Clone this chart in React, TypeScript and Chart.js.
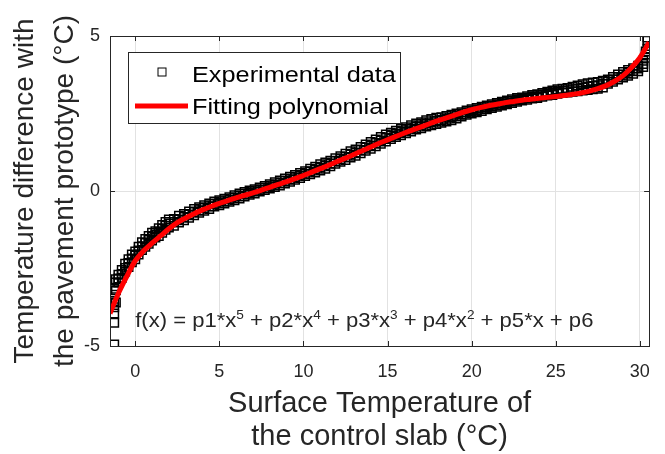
import React, { useEffect, useRef } from 'react';
import { Chart, registerables } from 'chart.js';

Chart.register(...registerables);

const FONT = '"Liberation Sans", Arial, Helvetica, sans-serif';
const TEXT = '#262626';

const xTicks = [0, 5, 10, 15, 20, 25, 30];
const yTicks = [-5, 0, 5];
const xRange = [-1.5, 30.55];
const yRange = [-5, 5];

// stray experimental points at both ends
const outlierX = [-1.25, -1.25, -1.25, -1.25, -1.25, -1.25, -1.25, -1.25, -1.15, -1.15, -1.15, 30.45, 30.45, 30.45];
const outlierY = [-4.95, -4.25, -3.95, -3.75, -3.55, -3.35, -3.15, -2.95, -3.6, -3.2, -2.85, 4.6, 4.85, 4.95];

// experimental band: x with lower, middle and upper readings
const bandX = [
  -1.0, -0.8, -0.6, -0.4, -0.2, 0.0, 0.2, 0.4, 0.6, 0.8, 1.0, 1.2, 1.4, 1.6, 1.8, 2.0,
  2.3, 2.6, 2.9, 3.2, 3.5, 3.8, 4.1, 4.4, 4.7, 5.0, 5.3, 5.6, 5.9, 6.2, 6.5, 6.8, 7.1, 7.4, 7.7,
  8.0, 8.3, 8.6, 8.9, 9.2, 9.5, 9.8, 10.1, 10.4, 10.7, 11.0, 11.3, 11.6, 11.9, 12.2, 12.5, 12.8,
  13.1, 13.4, 13.7, 14.0, 14.3, 14.6, 14.9, 15.2, 15.5, 15.8, 16.1, 16.4, 16.7, 17.0, 17.3, 17.6,
  17.9, 18.2, 18.5, 18.8, 19.1, 19.4, 19.7, 20.0, 20.3, 20.6, 20.9, 21.2, 21.5, 21.8, 22.1, 22.4,
  22.7, 23.0, 23.3, 23.6, 23.9, 24.2, 24.5, 24.8, 25.1, 25.4, 25.7, 26.0, 26.3, 26.6, 26.9, 27.2,
  27.5, 27.8, 28.1, 28.4, 28.7, 29.0, 29.3, 29.6, 29.9, 30.2, 30.35,
];
const bandLow = [
  -2.95, -2.8, -2.6, -2.45, -2.3, -2.2, -2.05, -1.9, -1.8, -1.7, -1.6, -1.5, -1.45, -1.35, -1.25, -1.18,
  -1.12, -1.02, -0.94, -0.86, -0.78, -0.7, -0.64, -0.58, -0.5, -0.46, -0.4, -0.35, -0.3, -0.24, -0.18, -0.12, -0.08, -0.02, 0.03,
  0.08, 0.13, 0.18, 0.24, 0.3, 0.36, 0.42, 0.48, 0.54, 0.6, 0.66, 0.72, 0.8, 0.88, 0.94, 1.0, 1.08,
  1.14, 1.22, 1.3, 1.36, 1.44, 1.52, 1.6, 1.68, 1.74, 1.8, 1.86, 1.92, 1.98, 2.02, 2.08, 2.12,
  2.16, 2.2, 2.24, 2.28, 2.34, 2.4, 2.46, 2.5, 2.54, 2.58, 2.64, 2.68, 2.72, 2.76, 2.8, 2.84,
  2.88, 2.92, 2.94, 2.98, 3.0, 3.04, 3.08, 3.1, 3.14, 3.16, 3.18, 3.2, 3.22, 3.24, 3.26, 3.28,
  3.3, 3.34, 3.46, 3.52, 3.6, 3.66, 3.72, 3.78, 3.86, 4.0, 4.3,
];
const bandMid = [
  -2.82, -2.68, -2.48, -2.32, -2.18, -2.08, -1.92, -1.78, -1.68, -1.58, -1.48, -1.4, -1.32, -1.22, -1.12, -1.05,
  -1.0, -0.92, -0.84, -0.76, -0.68, -0.62, -0.55, -0.49, -0.42, -0.38, -0.33, -0.27, -0.22, -0.16, -0.1, -0.05, -0.01, 0.04, 0.1,
  0.15, 0.2, 0.26, 0.32, 0.38, 0.44, 0.5, 0.56, 0.63, 0.69, 0.76, 0.82, 0.89, 0.97, 1.03, 1.1, 1.18,
  1.24, 1.32, 1.4, 1.47, 1.55, 1.63, 1.71, 1.78, 1.84, 1.9, 1.96, 2.02, 2.08, 2.12, 2.18, 2.22,
  2.26, 2.29, 2.33, 2.37, 2.42, 2.47, 2.53, 2.57, 2.61, 2.65, 2.7, 2.74, 2.78, 2.82, 2.86, 2.9,
  2.94, 2.97, 3.0, 3.04, 3.06, 3.1, 3.14, 3.17, 3.21, 3.23, 3.25, 3.28, 3.31, 3.34, 3.37, 3.39,
  3.41, 3.45, 3.53, 3.6, 3.68, 3.75, 3.81, 3.87, 3.95, 4.1, 4.4,
];
const bandHigh = [
  -2.7, -2.55, -2.35, -2.2, -2.05, -1.95, -1.8, -1.65, -1.55, -1.45, -1.35, -1.3, -1.2, -1.1, -1.0, -0.92,
  -0.9, -0.8, -0.74, -0.66, -0.58, -0.52, -0.46, -0.4, -0.34, -0.3, -0.25, -0.2, -0.14, -0.08, -0.03, 0.02, 0.06, 0.11, 0.16,
  0.22, 0.28, 0.34, 0.4, 0.46, 0.52, 0.58, 0.64, 0.72, 0.78, 0.86, 0.92, 0.98, 1.06, 1.12, 1.2, 1.28,
  1.34, 1.42, 1.5, 1.58, 1.66, 1.74, 1.82, 1.88, 1.94, 2.0, 2.06, 2.12, 2.18, 2.22, 2.28, 2.32,
  2.36, 2.38, 2.42, 2.46, 2.5, 2.54, 2.6, 2.64, 2.68, 2.72, 2.76, 2.8, 2.84, 2.88, 2.92, 2.96,
  3.0, 3.02, 3.06, 3.1, 3.12, 3.16, 3.2, 3.24, 3.28, 3.3, 3.32, 3.36, 3.4, 3.44, 3.48, 3.5,
  3.52, 3.56, 3.6, 3.68, 3.76, 3.84, 3.9, 3.96, 4.04, 4.2, 4.5,
];

// fitted 5th-degree polynomial
const fitX = [
  -1.5, -1.0, -0.5, 0.0, 0.5, 1.0, 1.5, 2.0, 2.5, 3.0, 3.5, 4.0, 4.5, 5.0, 5.5, 6.0, 6.5, 7.0, 7.5,
  8.0, 8.5, 9.0, 9.5, 10.0, 10.5, 11.0, 11.5, 12.0, 12.5, 13.0, 13.5, 14.0, 14.5, 15.0, 15.5, 16.0,
  16.5, 17.0, 17.5, 18.0, 18.5, 19.0, 19.5, 20.0, 20.5, 21.0, 21.5, 22.0, 22.5, 23.0, 23.5, 24.0,
  24.5, 25.0, 25.5, 26.0, 26.5, 27.0, 27.5, 28.0, 28.5, 29.0, 29.5, 30.0, 30.55,
];
const fitY = [
  -3.95, -3.3, -2.75, -2.25, -1.93, -1.68, -1.45, -1.22, -1.02, -0.87, -0.73, -0.61, -0.5, -0.4, -0.31, -0.22, -0.14, -0.06, 0.03,
  0.12, 0.21, 0.3, 0.4, 0.5, 0.61, 0.72, 0.83, 0.95, 1.06, 1.18, 1.3, 1.42, 1.54, 1.65, 1.76, 1.87,
  1.97, 2.07, 2.17, 2.27, 2.36, 2.45, 2.54, 2.62, 2.69, 2.75, 2.8, 2.85, 2.89, 2.93, 2.96, 2.99,
  3.02, 3.05, 3.08, 3.12, 3.16, 3.22, 3.3, 3.4, 3.54, 3.72, 3.98, 4.3, 4.8,
];

const legendLabels = ['Experimental data', 'Fitting polynomial'];
const xTitle = ['Surface Temperature of', 'the control slab (°C)'];
const yTitle = ['Temperature difference with', 'the pavement prototype (°C)'];
const formulaParts: [string, boolean][] = [
  ['f(x) = p1*x', false], ['5', true],
  [' + p2*x', false], ['4', true],
  [' + p3*x', false], ['3', true],
  [' + p4*x', false], ['2', true],
  [' + p5*x + p6', false],
];
const formulaAnchor = [0, -4.39];

function stretchedText(ctx: CanvasRenderingContext2D, t: string, x: number, y: number, sx: number) {
  ctx.save();
  ctx.translate(x, y);
  ctx.scale(sx, 1);
  ctx.fillText(t, 0, 0);
  ctx.restore();
  return ctx.measureText(t).width * sx;
}

const overlayPlugin = {
  id: 'matlabOverlay',
  afterDraw(chart: any) {
    const { ctx, chartArea: a, scales } = chart;
    const xs = scales.x;
    const ys = scales.y;
    ctx.save();
    // inward tick marks
    ctx.strokeStyle = TEXT;
    ctx.lineWidth = 1;
    ctx.beginPath();
    xTicks.forEach((v) => {
      const p = Math.round(xs.getPixelForValue(v)) + 0.5;
      ctx.moveTo(p, a.bottom);
      ctx.lineTo(p, a.bottom - 5);
      ctx.moveTo(p, a.top);
      ctx.lineTo(p, a.top + 5);
    });
    yTicks.forEach((v) => {
      const p = Math.round(ys.getPixelForValue(v)) + 0.5;
      ctx.moveTo(a.left, p);
      ctx.lineTo(a.left + 5, p);
      ctx.moveTo(a.right, p);
      ctx.lineTo(a.right - 5, p);
    });
    ctx.stroke();
    // axes box
    ctx.strokeRect(Math.round(a.left) + 0.5, Math.round(a.top) + 0.5, Math.round(a.right - a.left), Math.round(a.bottom - a.top));

    // formula text
    let fx = xs.getPixelForValue(formulaAnchor[0]);
    const fy = ys.getPixelForValue(formulaAnchor[1]);
    ctx.fillStyle = TEXT;
    ctx.textBaseline = 'alphabetic';
    ctx.textAlign = 'left';
    formulaParts.forEach(([t, sup]) => {
      ctx.font = sup ? `13px ${FONT}` : `21px ${FONT}`;
      fx += stretchedText(ctx, t, fx, sup ? fy - 8 : fy, 1.05);
    });

    // legend
    const lx = a.left + 18;
    const ly = a.top + 16;
    const lw = 272;
    const lh = 71;
    ctx.fillStyle = '#ffffff';
    ctx.fillRect(lx, ly, lw, lh);
    ctx.strokeStyle = TEXT;
    ctx.strokeRect(lx + 0.5, ly + 0.5, lw, lh);
    ctx.strokeStyle = '#000000';
    ctx.strokeRect(lx + 30, ly + 16, 8, 8);
    ctx.strokeStyle = '#ff0000';
    ctx.lineWidth = 5;
    ctx.beginPath();
    ctx.moveTo(lx + 7, ly + 54);
    ctx.lineTo(lx + 60, ly + 54);
    ctx.stroke();
    ctx.fillStyle = '#000000';
    ctx.font = `22px ${FONT}`;
    stretchedText(ctx, legendLabels[0], lx + 64, ly + 30, 1.15);
    stretchedText(ctx, legendLabels[1], lx + 64, ly + 62, 1.15);
    ctx.restore();
  },
};

export default function App() {
  const ref = useRef<HTMLCanvasElement | null>(null);
  useEffect(() => {
    if (!ref.current) return;
    const expData = [
      ...outlierX.map((x, i) => ({ x, y: outlierY[i] })),
      ...bandX.map((x, i) => ({ x, y: bandLow[i] })),
      ...bandX.map((x, i) => ({ x, y: bandMid[i] })),
      ...bandX.map((x, i) => ({ x, y: bandHigh[i] })),
    ];
    const fitData = fitX.map((x, i) => ({ x, y: fitY[i] }));
    const chart = new Chart(ref.current, {
      type: 'scatter',
      data: {
        datasets: [
          {
            label: legendLabels[1],
            data: fitData,
            showLine: true,
            borderColor: '#ff0000',
            borderWidth: 5,
            pointRadius: 0,
            cubicInterpolationMode: 'monotone',
            order: 0,
          } as any,
          {
            label: legendLabels[0],
            data: expData,
            pointStyle: 'rect',
            pointRadius: 6,
            borderColor: '#000000',
            borderWidth: 1.5,
            backgroundColor: 'rgba(0,0,0,0)',
            order: 1,
          },
        ],
      },
      options: {
        responsive: false,
        animation: false,
        events: [],
        layout: { padding: { left: 0, right: 2, top: 36, bottom: 0 } },
        plugins: { legend: { display: false }, tooltip: { enabled: false } },
        scales: {
          x: {
            type: 'linear',
            min: xRange[0],
            max: xRange[1],
            afterBuildTicks: (s: any) => {
              s.ticks = xTicks.map((v) => ({ value: v }));
            },
            afterFit: (s: any) => {
              s.height = 108;
            },
            ticks: { font: { family: FONT, size: 18 }, color: TEXT, padding: 15, maxRotation: 0 },
            grid: { color: '#e2e2e2', drawTicks: false },
            border: { display: false },
            title: {
              display: true,
              text: xTitle,
              font: { family: FONT, size: 29, lineHeight: 33 / 29 },
              color: TEXT,
              padding: { top: 0, bottom: 1 },
            },
          },
          y: {
            type: 'linear',
            min: yRange[0],
            max: yRange[1],
            afterBuildTicks: (s: any) => {
              s.ticks = yTicks.map((v) => ({ value: v }));
            },
            afterFit: (s: any) => {
              s.width = 110;
            },
            ticks: { font: { family: FONT, size: 18 }, color: TEXT, padding: 10 },
            grid: { color: '#e2e2e2', drawTicks: false },
            border: { display: false },
            title: {
              display: true,
              text: yTitle,
              font: { family: FONT, size: 28, lineHeight: 40 / 28 },
              color: TEXT,
              padding: { top: 5, bottom: 0 },
            },
          },
        },
      },
      plugins: [overlayPlugin],
    });
    return () => chart.destroy();
  }, []);
  return (
    <div style={{ position: 'fixed', left: 0, top: 0, width: 665, height: 454, background: '#fff' }}>
      <canvas ref={ref} width={665} height={454} />
    </div>
  );
}
